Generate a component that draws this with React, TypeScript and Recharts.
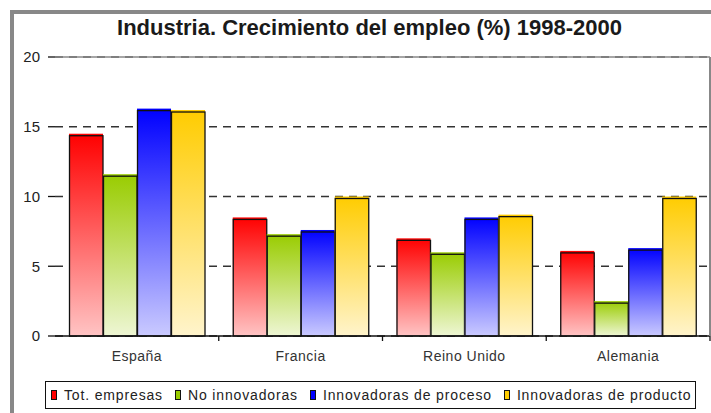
import { BarChart, Bar, XAxis, YAxis, CartesianGrid, ReferenceLine } from 'recharts'

const categories = ['España', 'Francia', 'Reino Unido', 'Alemania']
const totEmpresas = [14.5, 8.5, 7.0, 6.1]
const noInnovadoras = [11.6, 7.3, 6.0, 2.5]
const innovProceso = [16.3, 7.6, 8.5, 6.3]
const innovProducto = [16.2, 10.0, 8.7, 10.0]
const yTicks = [0, 5, 10, 15, 20]

const series = [
  { key: 'tot', name: 'Tot. empresas', values: totEmpresas, top: '#ff0000', bottom: '#ffc4c4' },
  { key: 'noinn', name: 'No innovadoras', values: noInnovadoras, top: '#99cc00', bottom: '#eef6d4' },
  { key: 'proc', name: 'Innovadoras de proceso', values: innovProceso, top: '#0000ff', bottom: '#cacaff' },
  { key: 'prod', name: 'Innovadoras de producto', values: innovProducto, top: '#ffcc00', bottom: '#fff4cc' },
]

const data = categories.map((c, i) => {
  const row: Record<string, any> = { cat: c }
  series.forEach(s => { row[s.key] = s.values[i] })
  return row
})

const W = 711
const H = 413
const PLOT_LEFT = 55
const PLOT_RIGHT = 710
const BAND = (PLOT_RIGHT - PLOT_LEFT) / categories.length
const FONT = '"Liberation Sans", Arial, sans-serif'

const BarShape = (props: any) => {
  const { x, y, width, height, fill } = props
  if (!height || height <= 0) return null
  return (
    <g>
      <rect x={x} y={y} width={width} height={height} fill={fill} />
      <rect x={x + 0.5} y={y + 2} width={width - 0.5} height={height - 2} fill="none" stroke="#111" strokeWidth={1.3} />
    </g>
  )
}

const CatTick = (props: any) => {
  const { x, y, payload } = props
  const edge = x + BAND / 2
  return (
    <g>
      <text x={x} y={y} dy={25} textAnchor="middle" fontSize={14} letterSpacing={0.5} fill="#333" fontFamily={FONT}>{payload.value}</text>
      <line x1={edge} x2={edge} y1={y} y2={y + 5} stroke="#111" strokeWidth={1.3} />
    </g>
  )
}

export default function App() {
  return (
    <div style={{ position: 'absolute', left: 0, top: 0, width: W, height: H, background: '#fff', overflow: 'hidden', fontFamily: FONT }}>
      <div style={{ position: 'absolute', left: 10, top: 10, width: W, height: H, borderLeft: '4px solid #888', borderTop: '4px solid #888' }} />
      <div style={{ position: 'absolute', left: 14, top: 16, width: W, textAlign: 'center', fontSize: 22, fontWeight: 'bold', lineHeight: '24px', color: '#1a1a1a' }}>
        Industria. Crecimiento del empleo (%) 1998-2000
      </div>
      <div style={{ position: 'absolute', left: 0, top: 0 }}>
        <BarChart width={W} height={H} data={data} margin={{ top: 57, right: W - PLOT_RIGHT, bottom: 47, left: 0 }} barCategoryGap={14} barGap={0}>
          <defs>
            {series.map(s => (
              <linearGradient key={s.key} id={'g_' + s.key} x1="0" y1="0" x2="0" y2="1">
                <stop offset="0%" stopColor={s.top} />
                <stop offset="100%" stopColor={s.bottom} />
              </linearGradient>
            ))}
          </defs>
          <CartesianGrid vertical={false} stroke="#333" strokeWidth={1.5} strokeDasharray="8 6" />
          <ReferenceLine y={20} stroke="#888" strokeWidth={1.5} />
          <XAxis dataKey="cat" height={30} tickSize={0} tickMargin={0} tickLine={false} axisLine={{ stroke: '#111', strokeWidth: 1.3 }} tick={<CatTick />} interval={0} />
          <YAxis width={PLOT_LEFT} domain={[0, 20]} ticks={yTicks} axisLine={false} tickSize={7} tickMargin={8} tickLine={{ stroke: '#111', strokeWidth: 1.3 }} tick={{ fontSize: 15, fill: '#222', fontFamily: FONT }} />
          {series.map(s => (
            <Bar key={s.key} dataKey={s.key} name={s.name} fill={`url(#g_${s.key})`} shape={<BarShape />} isAnimationActive={false} />
          ))}
        </BarChart>
      </div>
      <div style={{ position: 'absolute', left: 709, top: 57, width: 1.5, height: 279, background: '#888' }} />
      <div style={{ position: 'absolute', left: 45, top: 381, width: 644, height: 26, border: '1.5px solid #111', display: 'flex', alignItems: 'center', paddingLeft: 5, boxSizing: 'content-box', fontSize: 14, letterSpacing: 0.85, color: '#222', whiteSpace: 'nowrap' }}>
        {series.map(s => (
          <div key={s.key} style={{ display: 'flex', alignItems: 'center', marginRight: 12 }}>
            <span style={{ display: 'inline-block', width: 4, height: 8, border: '1.3px solid #111', background: s.top, marginRight: 7 }} />
            <span>{s.name}</span>
          </div>
        ))}
      </div>
    </div>
  )
}
